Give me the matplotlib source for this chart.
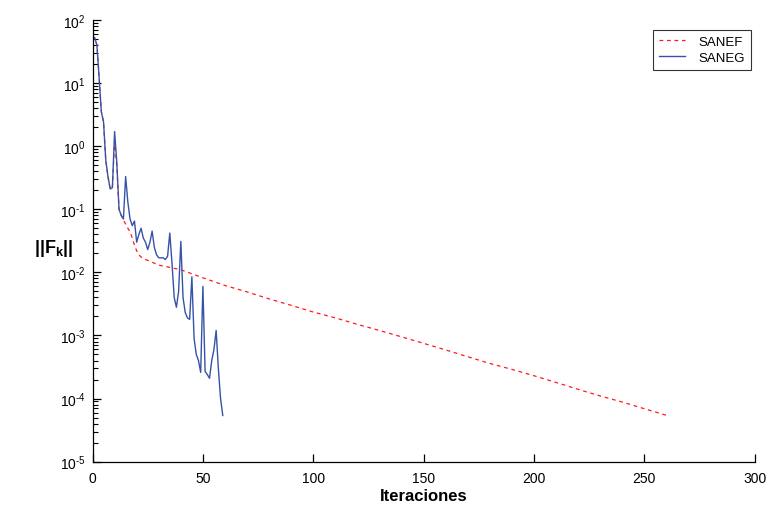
import matplotlib
matplotlib.use("Agg")
import matplotlib.pyplot as plt
from matplotlib.ticker import FixedLocator, LogLocator, NullFormatter

plt.rcParams['font.family'] = ['Liberation Sans', 'DejaVu Sans']
plt.rcParams['mathtext.fontset'] = 'custom'
plt.rcParams['mathtext.rm'] = 'Liberation Sans'
plt.rcParams['mathtext.it'] = 'Liberation Sans:italic'
plt.rcParams['mathtext.bf'] = 'Liberation Sans:bold'
plt.rcParams['mathtext.default'] = 'regular'

# SANEG: one value per iteration (0..59)
saneg_iter = list(range(60))
saneg_vals = [55, 52, 40, 12, 3.5, 2.4, 0.6, 0.33, 0.21, 0.22,
              1.7, 0.55, 0.1, 0.08, 0.07, 0.33, 0.13, 0.07, 0.055, 0.065,
              0.03, 0.04, 0.05, 0.035, 0.03, 0.023, 0.03, 0.045, 0.025, 0.019,
              0.017, 0.017, 0.017, 0.016, 0.018, 0.042, 0.014, 0.004, 0.0028, 0.005,
              0.031, 0.004, 0.0023, 0.0019, 0.0018, 0.0085, 0.0009, 0.0005, 0.0004, 0.00026,
              0.006, 0.00027, 0.00024, 0.00021, 0.0004, 0.0006, 0.0012, 0.0003, 0.0001, 0.000054]

# SANEF: values read at selected iterations
sanef_iter = [0, 1, 2, 3, 4, 5, 6, 7, 8, 9, 10, 11, 12, 13, 14, 15, 16, 17, 18, 19, 20,
              21, 22, 24, 26, 30, 35, 40, 45, 50, 60, 70, 80, 90, 100, 110, 120, 130,
              140, 150, 160, 170, 180, 190, 200, 210, 220, 230, 240, 250, 261]
sanef_vals = [55, 52, 40, 12, 3.5, 2.4, 0.6, 0.33, 0.21, 0.22, 1.2, 0.5, 0.1, 0.08, 0.068,
              0.058, 0.05, 0.044, 0.035, 0.027, 0.022, 0.019, 0.0175, 0.016, 0.015, 0.013,
              0.012, 0.011, 0.0095, 0.0082, 0.0062, 0.0049, 0.0038, 0.0030, 0.00235, 0.0019,
              0.0015, 0.0012, 0.00095, 0.00075, 0.00059, 0.00046, 0.00036, 0.00029, 0.00023,
              0.00018, 0.00014, 0.00011, 0.000088, 0.000069, 0.000053]

xticks = [0, 50, 100, 150, 200, 250, 300]
yticks = [1e2, 1e1, 1e0, 1e-1, 1e-2, 1e-3, 1e-4, 1e-5]
ytick_labels = [r'$10^{2}$', r'$10^{1}$', r'$10^{0}$', r'$10^{\text{-}1}$', r'$10^{\text{-}2}$',
                r'$10^{\text{-}3}$', r'$10^{\text{-}4}$', r'$10^{\text{-}5}$']

fig = plt.figure(figsize=(7.71, 5.06), dpi=100)
ax = fig.add_axes([0.12, 0.0856, 0.859, 0.873])

ax.plot(sanef_iter, sanef_vals, color='#ff1a1a', linestyle=(0, (3, 3)), linewidth=0.9, label='SANEF')
ax.plot(saneg_iter, saneg_vals, color='#3553a8', linestyle='-', linewidth=1.0, label='SANEG')

ax.set_yscale('log')
ax.set_xlim(0, 300)
ax.set_ylim(1e-5, 1e2)
ax.set_xticks(xticks)
ax.set_xticklabels([str(t) for t in xticks])
ax.yaxis.set_major_locator(FixedLocator(yticks))
ax.set_yticklabels(ytick_labels)
ax.yaxis.set_minor_locator(LogLocator(base=10, subs=range(2, 10), numticks=20))
ax.yaxis.set_minor_formatter(NullFormatter())

for s in ['top', 'right']:
    ax.spines[s].set_visible(False)
for s in ['left', 'bottom']:
    ax.spines[s].set_linewidth(0.9)

ax.tick_params(axis='both', which='major', direction='in', length=6, width=0.9, labelsize=10, colors='black')
ax.tick_params(axis='y', which='minor', direction='in', length=3.5, width=0.8)
ax.tick_params(axis='x', pad=7)
ax.tick_params(axis='y', pad=5)

ax.set_xlabel('Iteraciones', fontsize=12, fontweight='bold', labelpad=2)
ax.set_ylabel(r'$\mathbf{||F_k||}$', fontsize=13, rotation=0, ha='center', va='center')
ax.yaxis.set_label_coords(-0.058, 0.485)

leg = ax.legend(loc='upper right', bbox_to_anchor=(0.994, 0.978), borderaxespad=0,
                fontsize=9.5, frameon=True, fancybox=False, edgecolor='black',
                handlelength=2.0, handletextpad=1.0, borderpad=0.45, labelspacing=0.28)
leg.get_frame().set_linewidth(0.8)

fig.savefig('out.png', dpi=100)
